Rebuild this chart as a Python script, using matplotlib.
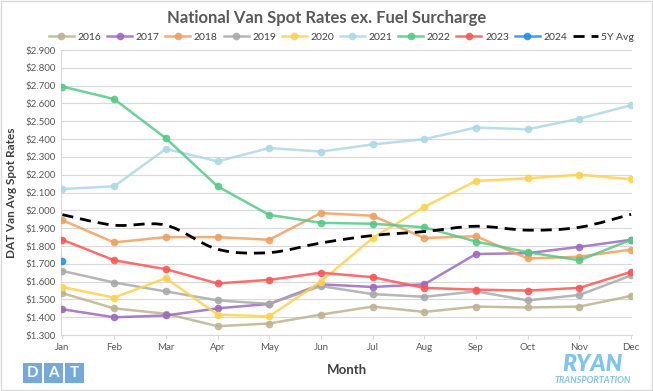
import numpy as np
import matplotlib.pyplot as plt
from matplotlib.path import Path
from matplotlib.patches import PathPatch, FancyBboxPatch
from matplotlib.lines import Line2D

plt.rcParams['font.family'] = ['Lato', 'DejaVu Sans']

months = ['Jan', 'Feb', 'Mar', 'Apr', 'May', 'Jun', 'Jul', 'Aug', 'Sep', 'Oct', 'Nov', 'Dec']

y2016 = [1.535, 1.450, 1.420, 1.350, 1.365, 1.415, 1.460, 1.430, 1.460, 1.455, 1.460, 1.520]
y2017 = [1.445, 1.400, 1.410, 1.450, 1.475, 1.585, 1.570, 1.585, 1.755, 1.760, 1.795, 1.835]
y2018 = [1.945, 1.820, 1.850, 1.850, 1.835, 1.985, 1.970, 1.845, 1.855, 1.730, 1.740, 1.780]
y2019 = [1.660, 1.595, 1.545, 1.495, 1.475, 1.575, 1.530, 1.515, 1.545, 1.495, 1.525, 1.635]
y2020 = [1.570, 1.510, 1.620, 1.415, 1.405, 1.600, 1.845, 2.020, 2.165, 2.180, 2.200, 2.175]
y2021 = [2.120, 2.135, 2.345, 2.275, 2.350, 2.330, 2.370, 2.400, 2.465, 2.455, 2.515, 2.590]
y2022 = [2.695, 2.625, 2.405, 2.135, 1.975, 1.930, 1.925, 1.905, 1.825, 1.765, 1.720, 1.835]
y2023 = [1.835, 1.720, 1.670, 1.590, 1.610, 1.650, 1.625, 1.565, 1.555, 1.550, 1.565, 1.655]
y2024 = [1.715]
avg5y = [1.976, 1.917, 1.917, 1.782, 1.763, 1.817, 1.859, 1.881, 1.911, 1.889, 1.905, 1.978]

series = [('2016', y2016, '#bdb38f'), ('2017', y2017, '#9a6ac0'),
          ('2018', y2018, '#f0a05e'), ('2019', y2019, '#a9a9a9'),
          ('2020', y2020, '#ffd24d'), ('2021', y2021, '#add8e6'),
          ('2022', y2022, '#55c986'), ('2023', y2023, '#ff5555'),
          ('2024', y2024, '#1a8fee')]

fig = plt.figure(figsize=(6.53, 3.91), dpi=100)
ax = fig.add_axes([0.094, 0.143, 0.874, 0.729])

x = np.arange(len(months))
handles = []
for name, vals, col in series:
    ln, = ax.plot(x[:len(vals)], vals, color=col, lw=1.8, marker='o', ms=4.5,
                  alpha=0.85, label=name, zorder=3)
    handles.append(ln)

# smoothed dashed 5Y avg (Catmull-Rom drawn as bezier segments)
pts = np.column_stack([x, avg5y])
verts = [tuple(pts[0])]
codes = [Path.MOVETO]
for i in range(len(pts) - 1):
    p0 = pts[max(i - 1, 0)]
    p1 = pts[i]
    p2 = pts[i + 1]
    p3 = pts[min(i + 2, len(pts) - 1)]
    c1 = p1 + (p2 - p0) / 6
    c2 = p2 - (p3 - p1) / 6
    verts += [tuple(c1), tuple(c2), tuple(p2)]
    codes += [Path.CURVE4] * 3
ax.add_patch(PathPatch(Path(verts, codes), fill=False, ec='black', lw=2,
                       ls=(0, (4, 2.5)), zorder=4))
handles.append(Line2D([], [], color='black', lw=2, ls=(0, (4, 2.5)), label='5Y Avg'))

ax.set_xlim(-0.02, 11.02)
ax.set_ylim(1.3, 2.9)
ax.set_yticks(np.arange(1.3, 2.901, 0.1))
ax.set_yticklabels(['${:.3f}'.format(v) for v in np.arange(1.3, 2.901, 0.1)])
ax.set_xticks(x)
ax.set_xticklabels(months)
ax.tick_params(axis='both', labelsize=7, colors='#595959', length=0, pad=4)
ax.tick_params(axis='x', length=3, color='#d9d9d9', pad=3)
ax.grid(axis='y', color='#d9d9d9', lw=0.8)
ax.set_axisbelow(True)
for s in ['top', 'right']:
    ax.spines[s].set_visible(False)
for s in ['left', 'bottom']:
    ax.spines[s].set_color('#d9d9d9')

ax.set_ylabel('DAT Van Avg Spot Rates', fontsize=8.5, fontweight='bold', color='#404040', labelpad=6)
ax.set_xlabel('Month', fontsize=9.5, fontweight='bold', color='#404040', labelpad=8)

fig.text(0.5, 0.955, 'National Van Spot Rates ex. Fuel Surcharge', ha='center', va='center',
         fontsize=12, fontweight='bold', color='#595959')
fig.legend(handles=handles, loc='center', bbox_to_anchor=(0.523, 0.905), ncol=10,
           frameon=False, fontsize=7.5, handlelength=2.4, handletextpad=0.35,
           columnspacing=0.55, labelcolor='#404040', borderaxespad=0)

# border
fig.patches.append(FancyBboxPatch((0.002, 0.003), 0.996, 0.994, boxstyle='square,pad=0',
                                  transform=fig.transFigure, fill=False, ec='#d9d9d9', lw=1))

# DAT logo
for i, ch in enumerate('DAT'):
    bx = 0.035 + i * 0.0325
    fig.patches.append(FancyBboxPatch((bx, 0.020), 0.029, 0.052, boxstyle='square,pad=0',
                                      transform=fig.transFigure, fc='#5b9bd5', ec='none', alpha=0.85))
    fig.text(bx + 0.0145, 0.046, ch, ha='center', va='center', fontsize=11,
             fontweight='bold', color='white')

# RYAN logo
fig.text(0.907, 0.067, 'RYAN', ha='center', va='center', fontsize=16.5, fontweight='heavy',
         style='italic', color='#7fc4ea')
fig.text(0.907, 0.028, 'TRANSPORTATION', ha='center', va='center', fontsize=6.5,
         fontweight='bold', style='italic', color='#7fc4ea')

fig.savefig('out.png', dpi=100)
